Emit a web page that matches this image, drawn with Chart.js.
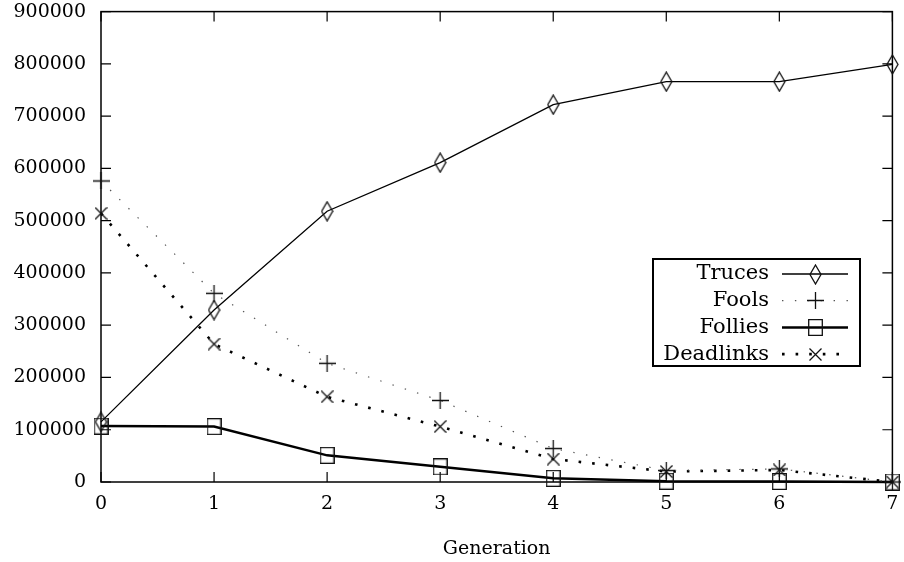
<!DOCTYPE html>
<html>
<head>
<meta charset="utf-8">
<script src="https://cdn.jsdelivr.net/npm/chart.js@4.4.0/dist/chart.umd.min.js"></script>
<style>
  html, body { margin: 0; padding: 0; background: #fff; }
  #wrap { width: 904px; height: 562px; }
</style>
</head>
<body>
<div id="wrap"><canvas id="myChart" width="904" height="562"></canvas></div>
<script>
// data
const generations = ['0', '1', '2', '3', '4', '5', '6', '7'];
const truces    = [115000, 329000, 518000, 611000, 722000, 766000, 766000, 799000];
const fools     = [576000, 361000, 227000, 156000, 64000, 22000, 25000, 0];
const follies   = [107000, 106000, 51000, 29000, 7000, 1500, 1000, 0];
const deadlinks = [514000, 264000, 163000, 106000, 44000, 20000, 23000, 0];
const yTicks    = [0, 100000, 200000, 300000, 400000, 500000, 600000, 700000, 800000, 900000];

// gnuplot-like markers, drawn once on small canvases
const makeMarker = (w, h, draw) => {
  const c = document.createElement('canvas');
  c.width = w; c.height = h;
  const g = c.getContext('2d');
  g.strokeStyle = '#111';
  g.lineWidth = 1.3;
  g.beginPath();
  draw(g, w, h);
  g.stroke();
  return c;
};
const diamond = makeMarker(13, 21, (g, w, h) => {
  g.moveTo(w / 2, 1); g.lineTo(w - 1, h / 2); g.lineTo(w / 2, h - 1); g.lineTo(1, h / 2); g.closePath();
});
const plus = makeMarker(17, 17, (g, w, h) => {
  g.moveTo(0, h / 2); g.lineTo(w, h / 2); g.moveTo(w / 2, 0); g.lineTo(w / 2, h);
});
const square = makeMarker(15, 17, (g, w, h) => {
  g.rect(0.7, 0.7, w - 1.4, h - 1.4);
});
const cross = makeMarker(13, 13, (g, w, h) => {
  g.moveTo(0.5, 0.5); g.lineTo(w - 0.5, h - 0.5); g.moveTo(w - 0.5, 0.5); g.lineTo(0.5, h - 0.5);
});

// frame with inward ticks on all four sides
const framePlugin = {
  id: 'frame',
  beforeDatasetsDraw(chart) {
    const { ctx, chartArea: a, scales } = chart;
    ctx.save();
    ctx.strokeStyle = '#000';
    ctx.lineWidth = 1.5;
    ctx.strokeRect(a.left, a.top, a.right - a.left, a.bottom - a.top);
    ctx.lineWidth = 1.2;
    ctx.beginPath();
    yTicks.forEach(v => {
      const y = scales.y.getPixelForValue(v);
      ctx.moveTo(a.left, y); ctx.lineTo(a.left + 10, y);
      ctx.moveTo(a.right, y); ctx.lineTo(a.right - 10, y);
    });
    generations.forEach((g, i) => {
      const x = scales.x.getPixelForValue(i);
      ctx.moveTo(x, a.bottom); ctx.lineTo(x, a.bottom - 10);
      ctx.moveTo(x, a.top); ctx.lineTo(x, a.top + 10);
    });
    ctx.stroke();
    ctx.restore();
  }
};

// legend box inside the plot, label on the left, sample on the right
const keyPlugin = {
  id: 'key',
  afterDraw(chart) {
    const { ctx } = chart;
    ctx.save();
    ctx.strokeStyle = '#000';
    ctx.lineWidth = 2;
    ctx.strokeRect(653, 259, 207, 107);
    ctx.font = '21px "DejaVu Serif"';
    ctx.textAlign = 'right';
    ctx.textBaseline = 'middle';
    ctx.fillStyle = '#000';
    chart.data.datasets.forEach((ds, i) => {
      const y = 274 + i * 26.7;
      ctx.fillText(ds.label, 769, y);
      ctx.beginPath();
      ctx.strokeStyle = ds.borderColor;
      ctx.lineWidth = ds.borderWidth;
      ctx.setLineDash(ds.borderDash || []);
      ctx.moveTo(782, y); ctx.lineTo(848, y);
      ctx.stroke();
      ctx.setLineDash([]);
      const m = ds.pointStyle;
      ctx.drawImage(m, Math.round(815 - m.width / 2), Math.round(y - m.height / 2));
    });
    ctx.restore();
  }
};

Chart.defaults.font.family = '"DejaVu Serif", serif';
Chart.defaults.font.size = 19;
Chart.defaults.color = '#000';

const common = { fill: false, tension: 0, clip: false, pointRadius: 9, pointHoverRadius: 9 };

new Chart(document.getElementById('myChart').getContext('2d'), {
  type: 'line',
  data: {
    labels: generations,
    datasets: [
      { ...common, label: 'Truces', data: truces, borderColor: '#000', borderWidth: 1.3, pointStyle: diamond },
      { ...common, label: 'Fools', data: fools, borderColor: '#555', borderWidth: 1.2, borderDash: [1.4, 11.5], pointStyle: plus },
      { ...common, label: 'Follies', data: follies, borderColor: '#000', borderWidth: 2.5, pointStyle: square },
      { ...common, label: 'Deadlinks', data: deadlinks, borderColor: '#000', borderWidth: 2.6, borderDash: [2.6, 11], pointStyle: cross }
    ]
  },
  options: {
    responsive: false,
    animation: false,
    layout: { padding: { top: 11, right: 11, left: 0, bottom: 0 } },
    plugins: { legend: { display: false }, tooltip: { enabled: false } },
    scales: {
      x: {
        offset: false,
        grid: { display: false, drawTicks: false },
        border: { display: false },
        ticks: { padding: 11, maxRotation: 0 },
        title: { display: true, text: 'Generation', padding: { top: 0, bottom: 2 } },
        afterFit: s => { s.height = 80; s.paddingLeft = 0; s.paddingRight = 0; }
      },
      y: {
        min: 0,
        max: 900000,
        grid: { display: false, drawTicks: false },
        border: { display: false },
        ticks: { stepSize: 100000, padding: 15, callback: v => String(v) },
        afterFit: s => { s.width = 101; s.paddingTop = 0; s.paddingBottom = 0; }
      }
    }
  },
  plugins: [framePlugin, keyPlugin]
});
</script>
</body>
</html>
